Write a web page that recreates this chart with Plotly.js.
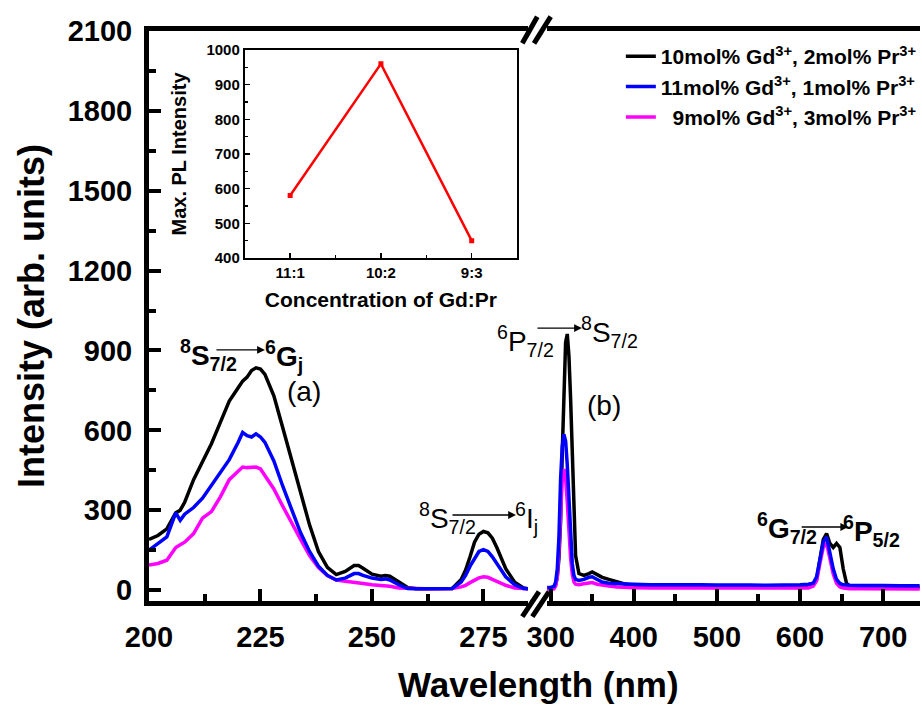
<!DOCTYPE html>
<html><head><meta charset="utf-8">
<script src="https://cdn.plot.ly/plotly-3.0.1.min.js"></script>
<style>html,body{margin:0;padding:0;background:#fff;overflow:hidden}</style>
</head><body><div id="chart" style="width:922px;height:706px"></div>
<script>
// ---- data ----
const wlLeft = [200,202,204,206,207,208,210,212,214,216,218,220,221,222,223,224,225,226,228,230,232,234,236,238,240,242,244,246,247,248,250,252,253,254,256,258,260,262,264,266,268,270,271,272,273,274,275,276,277,278,280,282,284,285];
const blackLeft = [190,205,230,290,300,330,415,480,550,630,710,760,785,800,825,835,830,810,730,610,490,370,245,145,85,58,70,92,92,82,60,52,55,52,30,10,5,5,5,5,6,40,75,125,180,210,220,215,195,160,80,30,8,5];
const blueLeft = [150,175,200,290,262,285,310,345,395,440,490,555,592,580,575,587,575,555,485,390,300,215,145,90,55,38,45,62,62,55,45,40,42,38,20,6,5,5,5,5,6,30,55,90,120,145,152,145,125,100,50,20,6,5];
const magentaLeft = [94,100,112,160,170,180,212,270,295,350,415,445,462,460,462,462,455,430,380,315,250,190,130,85,55,38,33,30,28,25,20,17,16,14,8,6,5,5,5,5,6,12,18,28,38,46,50,48,40,32,18,8,5,5];

const wlRight = [296,300,304,306,308,310,312,314,316,318,320,322,324,326,328,330,334,340,346,350,356,362,370,380,390,400,420,440,460,480,500,520,540,560,580,600,610,616,620,624,628,632,636,640,644,648,652,656,660,670,680,700,720,744];
const blackRight = [8,8,10,20,50,120,260,520,780,930,962,880,720,520,300,130,62,55,62,68,58,48,40,30,22,18,16,15,14,13,12,12,11,10,10,12,14,20,40,110,190,212,175,160,175,160,80,25,14,12,12,11,11,10];
const blueRight = [10,10,14,30,80,200,420,540,585,560,470,330,190,100,55,40,36,40,48,50,40,30,26,24,22,22,20,21,20,20,19,20,19,18,18,20,22,26,50,120,180,200,140,80,40,25,20,18,18,17,18,17,16,16];
const magentaRight = [2,2,5,15,50,150,320,420,455,420,330,220,120,60,30,22,20,24,28,28,22,18,15,12,10,9,8,8,8,7,7,7,7,6,6,6,8,15,35,100,160,175,120,60,25,12,8,6,5,5,5,5,4,4];

const seriesNames = [
  '10mol% Gd<sup>3+</sup>, 2mol% Pr<sup>3+</sup>',
  '11mol% Gd<sup>3+</sup>, 1mol% Pr<sup>3+</sup>',
  '&nbsp;&nbsp;9mol% Gd<sup>3+</sup>, 3mol% Pr<sup>3+</sup>'
];
const seriesColors = ['#000000', '#0000ff', '#ff00ff'];

const ratioLabels = ['11:1', '10:2', '9:3'];
const maxPL = [580, 960, 450];

// ---- build ----
const FONT = 'Liberation Sans, Arial, sans-serif';
const LW = 3.5;

function pair(name, color, xl, yl, xr, yr, rank) {
  return [
    {x: xl, y: yl, xaxis: 'x', yaxis: 'y', type: 'scatter', mode: 'lines', name: name,
     legendgroup: name, legendrank: rank, line: {color: color, width: LW}},
    {x: xr, y: yr, xaxis: 'x2', yaxis: 'y', type: 'scatter', mode: 'lines', name: name,
     legendgroup: name, showlegend: false, line: {color: color, width: LW}}
  ];
}

const traces = [].concat(
  pair(seriesNames[0], seriesColors[0], wlLeft, blackLeft, wlRight, blackRight, 1),
  pair(seriesNames[2], seriesColors[2], wlLeft, magentaLeft, wlRight, magentaRight, 3),
  pair(seriesNames[1], seriesColors[1], wlLeft, blueLeft, wlRight, blueRight, 2),
  [{x: ratioLabels.map((_, i) => i), y: maxPL, xaxis: 'x3', yaxis: 'y3', type: 'scatter',
    mode: 'lines+markers', showlegend: false, line: {color: '#ff0000', width: 2.5},
    marker: {symbol: 'square', size: 5, color: '#ff0000'}}]
);

const tickFont = {family: FONT, size: 29, color: '#000', weight: 'bold'};
const mainAx = {
  showline: true, linewidth: 5, linecolor: '#000', ticks: 'inside', ticklen: 12, tickwidth: 4,
  tickcolor: '#000', showgrid: false, zeroline: false, tickfont: tickFont, ticklabelstandoff: 6
};
const insetAx = {
  showline: true, linewidth: 2, linecolor: '#000', mirror: true, ticks: 'inside', ticklen: 5,
  tickwidth: 1.5, tickcolor: '#000', showgrid: false, zeroline: false,
  tickfont: {family: FONT, size: 15, color: '#000', weight: 'bold'}
};

const annFont = (bold) => ({family: FONT, size: 28, color: '#000', weight: bold ? 'bold' : 'normal'});
function label(text, xref, yref, x, y, bold) {
  return {text: text, xref: xref, yref: yref, x: x, y: y, showarrow: false, font: annFont(bold),
          xanchor: 'center', yanchor: 'middle'};
}
function arrow(xref, yref, x, y, len) {
  return {text: '', xref: xref, yref: yref, x: x, y: y, ax: -len, ay: 0, axref: 'pixel', ayref: 'pixel',
          showarrow: true, arrowhead: 2, arrowsize: 1.2, arrowwidth: 1.3, arrowcolor: '#000',
          standoff: 0, startstandoff: 0};
}

const annotations = [
  label('<sup>8</sup>S<sub>7/2</sub>', 'x', 'y', 213.4, 883, true),
  arrow('x', 'y', 226.0, 902, 50),
  label('<sup>6</sup>G<sub>j</sub>', 'x', 'y', 230.2, 881, true),
  label('(a)', 'x', 'y', 234.7, 745, false),
  label('<sup>8</sup>S<sub>7/2</sub>', 'x', 'y', 266.9, 270, false),
  arrow('x', 'y', 282.3, 282, 65),
  label('<sup>6</sup>I<sub>j</sub>', 'x', 'y', 284.6, 270, false),
  label('<sup>6</sup>P<sub>7/2</sub>', 'paper', 'paper', 0.4877, 0.4560, false),
  arrow('paper', 'paper', 0.5615, 0.4789, 46),
  label('<sup>8</sup>S<sub>7/2</sub>', 'x2', 'y', 371.2, 969, false),
  label('(b)', 'x2', 'y', 364, 695, false),
  label('<sup>6</sup>G<sub>7/2</sub>', 'x2', 'y', 584.8, 232, true),
  arrow('x2', 'y', 658.0, 237, 48),
  label('<sup>6</sup>P<sub>5/2</sub>', 'x2', 'y', 685.6, 222, true),
  {text: 'Wavelength (nm)', xref: 'paper', yref: 'paper', x: 0.5058, y: -0.146, showarrow: false,
   xanchor: 'center', yanchor: 'middle', font: {family: FONT, size: 35, color: '#000', weight: 'bold'}}
];

const brk = (x0, y0, x1, y1) => ({type: 'line', xref: 'paper', yref: 'paper', x0: x0, y0: y0, x1: x1, y1: y1,
  line: {color: '#000', width: 5}});
const shapes = [
  brk(0.4842, -0.0275, 0.5058, 0.0163), brk(0.4972, -0.0275, 0.5188, 0.0163),
  brk(0.4842, 0.9784, 0.5036, 1.0251), brk(0.4994, 0.9784, 0.5210, 1.0251)
];

const layout = {
  width: 922, height: 706,
  margin: {l: 149, r: 0, t: 31, b: 105},
  paper_bgcolor: '#fff', plot_bgcolor: 'rgba(0,0,0,0)',
  font: {family: FONT, color: '#000'},
  showlegend: true,
  legend: {x: 0.612, y: 0.991, xanchor: 'left', yanchor: 'top', bgcolor: 'rgba(0,0,0,0)',
           font: {family: FONT, size: 21, color: '#000', weight: 'bold'}, tracegroupgap: 0},
  xaxis: Object.assign({}, mainAx, {domain: [0, 0.4916], range: [200, 285], anchor: 'y', mirror: true,
    tick0: 200, dtick: 25, minor: {ticks: 'inside', ticklen: 7, tickwidth: 4, tickcolor: '#000', dtick: 12.5}}),
  xaxis2: Object.assign({}, mainAx, {domain: [0.5162, 1], range: [295.6, 744.4], anchor: 'y', mirror: true,
    tick0: 0, dtick: 100, minor: {ticks: 'inside', ticklen: 7, tickwidth: 4, tickcolor: '#000', dtick: 50}}),
  yaxis: Object.assign({}, mainAx, {domain: [0, 1], range: [-41, 2100], anchor: 'x',
    tick0: 0, dtick: 300, minor: {ticks: 'inside', ticklen: 7, tickwidth: 4, tickcolor: '#000', dtick: 150},
    title: {text: 'Intensity (arb. units)', font: {family: FONT, size: 36, color: '#000', weight: 'bold'}, standoff: 14}}),
  xaxis3: Object.assign({}, insetAx, {domain: [0.1242, 0.4774], anchor: 'y3', range: [-0.5, 2.5],
    tickmode: 'array', tickvals: ratioLabels.map((_, i) => i), ticktext: ratioLabels,
    minor: {ticks: 'inside', ticklen: 3, tickwidth: 1.5, tickcolor: '#000', tickmode: 'array', tickvals: [0.5, 1.5]},
    title: {text: 'Concentration of Gd:Pr', font: {family: FONT, size: 21, color: '#000', weight: 'bold'}, standoff: 12}}),
  yaxis3: Object.assign({}, insetAx, {domain: [0.6018, 0.9667], anchor: 'x3', range: [400, 1000], dtick: 100,
    minor: {ticks: 'inside', ticklen: 3, tickwidth: 1.5, tickcolor: '#000', dtick: 50},
    title: {text: 'Max. PL Intensity', font: {family: FONT, size: 20, color: '#000', weight: 'bold'}, standoff: 14}}),
  annotations: annotations,
  shapes: shapes
};

Plotly.newPlot('chart', traces, layout, {displayModeBar: false, staticPlot: true});
</script></body></html>
